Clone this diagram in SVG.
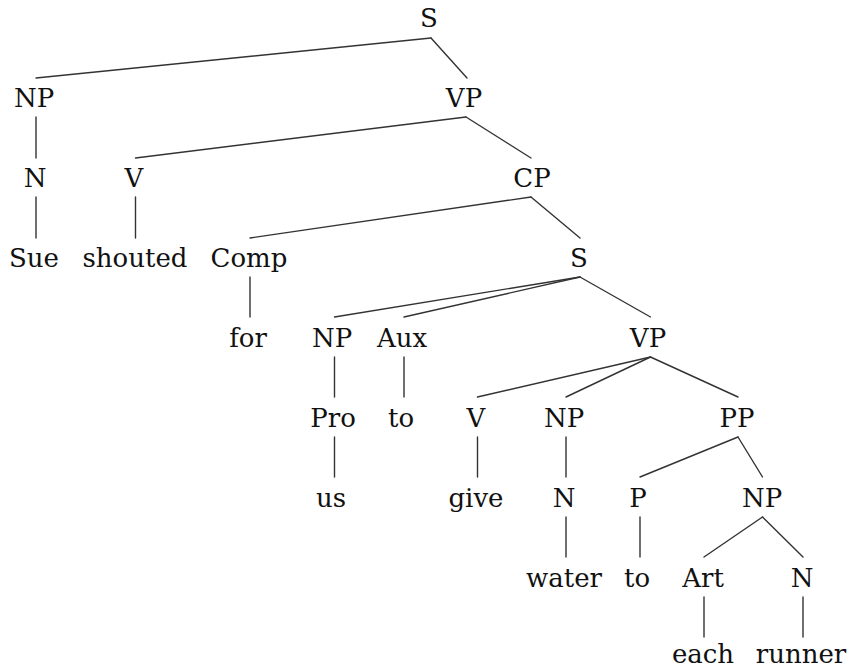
<svg xmlns="http://www.w3.org/2000/svg" width="848" height="670" viewBox="0 0 848 670">
<style>
text{font-family:"DejaVu Serif","Liberation Serif",serif;font-size:26px;fill:#111;text-anchor:middle}
line{stroke:#333;stroke-width:1.4;stroke-linecap:round}
</style>
<rect width="848" height="670" fill="#fff"/>
<g id="connectors">
<line x1="431" y1="38" x2="36" y2="78"/>
<line x1="431" y1="38" x2="467" y2="78"/>
<line x1="36" y1="117" x2="36" y2="158"/>
<line x1="36" y1="197" x2="36" y2="238"/>
<line x1="466" y1="117" x2="135.5" y2="158"/>
<line x1="466" y1="117" x2="531" y2="158"/>
<line x1="135.5" y1="197" x2="135.5" y2="238"/>
<line x1="531" y1="197" x2="250" y2="238"/>
<line x1="531" y1="197" x2="580" y2="238"/>
<line x1="250" y1="277" x2="250" y2="317"/>
<line x1="580" y1="277" x2="334.5" y2="317"/>
<line x1="580" y1="277" x2="404" y2="317"/>
<line x1="580" y1="277" x2="650.5" y2="317"/>
<line x1="334.5" y1="357" x2="334.5" y2="397"/>
<line x1="404" y1="357" x2="404" y2="397"/>
<line x1="650.5" y1="357" x2="477.5" y2="397"/>
<line x1="650.5" y1="357" x2="566" y2="397"/>
<line x1="650.5" y1="357" x2="738" y2="397"/>
<line x1="334.5" y1="437" x2="334.5" y2="477"/>
<line x1="477.5" y1="437" x2="477.5" y2="477"/>
<line x1="566" y1="437" x2="566" y2="477"/>
<line x1="738" y1="437" x2="640" y2="477"/>
<line x1="738" y1="437" x2="762.5" y2="477"/>
<line x1="566" y1="517" x2="566" y2="557"/>
<line x1="640" y1="517" x2="640" y2="557"/>
<line x1="762.5" y1="517" x2="704" y2="557"/>
<line x1="762.5" y1="517" x2="803" y2="557"/>
<line x1="704" y1="597" x2="704" y2="637"/>
<line x1="803" y1="597" x2="803" y2="637"/>
</g>
<g id="n-S"><text x="429" y="27">S</text></g>
<g id="n-NP1"><text x="34" y="107">NP</text></g>
<g id="n-VP1"><text x="464" y="107">VP</text></g>
<g id="n-N1"><text x="35" y="187">N</text></g>
<g id="n-V1"><text x="134" y="187">V</text></g>
<g id="n-CP"><text x="532" y="187">CP</text></g>
<g id="n-Sue"><text x="34" y="267">Sue</text></g>
<g id="n-shouted"><text x="135" y="267">shouted</text></g>
<g id="n-Comp"><text x="249" y="267">Comp</text></g>
<g id="n-S2"><text x="579" y="267">S</text></g>
<g id="n-for"><text x="248" y="347">for</text></g>
<g id="n-NP2"><text x="332" y="347">NP</text></g>
<g id="n-Aux"><text x="402" y="347">Aux</text></g>
<g id="n-VP2"><text x="648" y="347">VP</text></g>
<g id="n-Pro"><text x="333" y="427">Pro</text></g>
<g id="n-to1"><text x="401" y="427">to</text></g>
<g id="n-V2"><text x="476" y="427">V</text></g>
<g id="n-NP3"><text x="564" y="427">NP</text></g>
<g id="n-PP"><text x="737" y="427">PP</text></g>
<g id="n-us"><text x="331" y="507">us</text></g>
<g id="n-give"><text x="476" y="507">give</text></g>
<g id="n-N2"><text x="564" y="507">N</text></g>
<g id="n-P"><text x="638" y="507">P</text></g>
<g id="n-NP4"><text x="762" y="507">NP</text></g>
<g id="n-water"><text x="564" y="587">water</text></g>
<g id="n-to2"><text x="637" y="587">to</text></g>
<g id="n-Art"><text x="703" y="587">Art</text></g>
<g id="n-N3"><text x="802" y="587">N</text></g>
<g id="n-each"><text x="703" y="663">each</text></g>
<g id="n-runner"><text x="801" y="663">runner</text></g>
</svg>
